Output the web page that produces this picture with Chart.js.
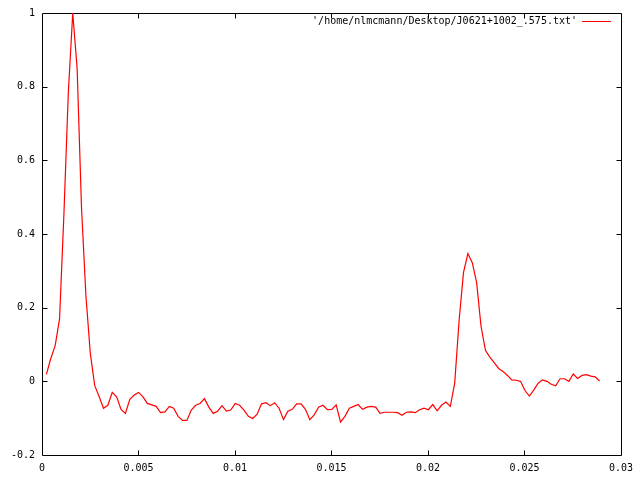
<!DOCTYPE html>
<html>
<head>
<meta charset="utf-8">
<script src="https://cdn.jsdelivr.net/npm/chart.js@4.4.1/dist/chart.umd.min.js"></script>
<style>
  html, body { margin: 0; padding: 0; background: #ffffff; }
  #c { display: block; }
</style>
</head>
<body>
<canvas id="c" width="640" height="480"></canvas>
<script>
// ---- data ----
const seriesLabel = "'/home/nlmcmann/Desktop/J0621+1002_.575.txt'";

const xValues = [
  0.000228, 0.000455, 0.000683, 0.00091, 0.001138, 0.001365, 0.001593, 0.00182, 0.002048, 0.002275,
  0.002503, 0.00273, 0.002958, 0.003185, 0.003413, 0.00364, 0.003868, 0.004095, 0.004323, 0.00455,
  0.004778, 0.005005, 0.005233, 0.00546, 0.005688, 0.005915, 0.006143, 0.00637, 0.006598, 0.006825,
  0.007053, 0.00728, 0.007508, 0.007735, 0.007963, 0.00819, 0.008418, 0.008645, 0.008873, 0.0091,
  0.009328, 0.009555, 0.009783, 0.01001, 0.010238, 0.010465, 0.010693, 0.01092, 0.011148, 0.011375,
  0.011603, 0.01183, 0.012058, 0.012285, 0.012513, 0.01274, 0.012968, 0.013195, 0.013423, 0.01365,
  0.013878, 0.014105, 0.014333, 0.01456, 0.014788, 0.015015, 0.015243, 0.01547, 0.015698, 0.015925,
  0.016153, 0.01638, 0.016608, 0.016835, 0.017063, 0.01729, 0.017518, 0.017745, 0.017973, 0.0182,
  0.018428, 0.018655, 0.018883, 0.01911, 0.019338, 0.019565, 0.019793, 0.02002, 0.020248, 0.020475,
  0.020703, 0.02093, 0.021158, 0.021385, 0.021613, 0.02184, 0.022068, 0.022295, 0.022523, 0.02275,
  0.022978, 0.023205, 0.023433, 0.02366, 0.023888, 0.024115, 0.024343, 0.02457, 0.024798, 0.025025,
  0.025253, 0.02548, 0.025708, 0.025935, 0.026163, 0.02639, 0.026618, 0.026845, 0.027073, 0.0273,
  0.027528, 0.027755, 0.027983, 0.02821, 0.028438, 0.028665, 0.028893
];

const yValues = [
  0.019, 0.062, 0.097, 0.17, 0.457, 0.785, 1.0, 0.85, 0.47, 0.233,
  0.076, -0.011, -0.041, -0.073, -0.065, -0.030, -0.042, -0.076, -0.087, -0.049,
  -0.037, -0.030, -0.042, -0.060, -0.064, -0.068, -0.085, -0.083, -0.068, -0.073,
  -0.095, -0.106, -0.106, -0.078, -0.065, -0.060, -0.047, -0.070, -0.087, -0.081,
  -0.066, -0.081, -0.078, -0.060, -0.065, -0.078, -0.095, -0.101, -0.089, -0.061,
  -0.058, -0.066, -0.058, -0.073, -0.104, -0.081, -0.076, -0.061, -0.061, -0.076,
  -0.104, -0.091, -0.070, -0.065, -0.077, -0.076, -0.064, -0.111, -0.095, -0.073,
  -0.068, -0.063, -0.076, -0.070, -0.068, -0.070, -0.087, -0.084, -0.084, -0.084,
  -0.085, -0.092, -0.084, -0.083, -0.085, -0.077, -0.073, -0.077, -0.063, -0.080,
  -0.065, -0.056, -0.068, -0.005, 0.165, 0.295, 0.347, 0.322, 0.268, 0.149,
  0.084, 0.066, 0.051, 0.035, 0.027, 0.016, 0.004, 0.003, 0.0, -0.025,
  -0.040, -0.024, -0.005, 0.004, 0.0, -0.008, -0.012, 0.007, 0.007, 0.0,
  0.020, 0.008, 0.016, 0.018, 0.014, 0.012, 0.001
];

const xTickLabels = ['0', '0.005', '0.01', '0.015', '0.02', '0.025', '0.03'];
const yTickLabels = ['-0.2', '0', '0.2', '0.4', '0.6', '0.8', '1'];

// ---- chart ----
const FONT = { family: '"DejaVu Sans Mono", monospace', size: 10 };
const TICK_LEN = 5;

const points = xValues.map((x, i) => ({ x: x, y: yValues[i] }));

const framePlugin = {
  id: 'gnuplotFrame',
  beforeDatasetsDraw(chart) {
    const ctx = chart.ctx;
    const a = chart.chartArea;
    const L = Math.round(a.left) + 0.5, R = Math.round(a.right) + 0.5;
    const T = Math.round(a.top) + 0.5, B = Math.round(a.bottom) + 0.5;
    ctx.save();
    ctx.strokeStyle = '#000000';
    ctx.lineWidth = 1;
    ctx.beginPath();
    ctx.rect(L, T, R - L, B - T);
    const xs = chart.scales.x, ys = chart.scales.y;
    xs.ticks.forEach(t => {
      const p = Math.round(xs.getPixelForValue(t.value)) + 0.5;
      if (p <= L + 1 || p >= R - 1) return;
      ctx.moveTo(p, B); ctx.lineTo(p, B - TICK_LEN);
      ctx.moveTo(p, T); ctx.lineTo(p, T + TICK_LEN);
    });
    ys.ticks.forEach(t => {
      const p = Math.round(ys.getPixelForValue(t.value)) + 0.5;
      if (p <= T + 1 || p >= B - 1) return;
      ctx.moveTo(L, p); ctx.lineTo(L + TICK_LEN, p);
      ctx.moveTo(R, p); ctx.lineTo(R - TICK_LEN, p);
    });
    ctx.stroke();
    ctx.restore();
  },
  afterDraw(chart) {
    const ctx = chart.ctx;
    ctx.save();
    ctx.font = '10px "DejaVu Sans Mono", monospace';
    ctx.fillStyle = '#000000';
    ctx.textAlign = 'right';
    ctx.textBaseline = 'middle';
    ctx.fillText(chart.data.datasets[0].label, 577, 21);
    ctx.strokeStyle = '#ff0000';
    ctx.lineWidth = 1;
    ctx.beginPath();
    ctx.moveTo(582, 21.5);
    ctx.lineTo(611, 21.5);
    ctx.stroke();
    ctx.restore();
  }
};

new Chart(document.getElementById('c'), {
  type: 'line',
  data: {
    datasets: [{
      label: seriesLabel,
      data: points,
      borderColor: '#ff0000',
      borderWidth: 1.2,
      pointRadius: 0,
      pointHoverRadius: 0,
      tension: 0,
      fill: false
    }]
  },
  options: {
    responsive: false,
    animation: false,
    devicePixelRatio: 1,
    layout: { padding: { top: 11, right: 18, left: 0, bottom: 0 } },
    plugins: { legend: { display: false }, tooltip: { enabled: false } },
    scales: {
      x: {
        type: 'linear',
        min: 0, max: 0.03,
        grid: { display: false, drawTicks: false },
        border: { display: false },
        ticks: {
          stepSize: 0.005,
          padding: 7,
          maxRotation: 0,
          autoSkip: false,
          color: '#000000',
          font: FONT,
          callback: (v, i) => xTickLabels[i]
        },
        afterFit: s => { s.height = 25; }
      },
      y: {
        type: 'linear',
        min: -0.2, max: 1,
        grid: { display: false, drawTicks: false },
        border: { display: false },
        ticks: {
          stepSize: 0.2,
          padding: 7,
          autoSkip: false,
          color: '#000000',
          font: FONT,
          callback: (v, i) => yTickLabels[i]
        },
        afterFit: s => { s.width = 42; }
      }
    }
  },
  plugins: [framePlugin]
});
</script>
</body>
</html>
